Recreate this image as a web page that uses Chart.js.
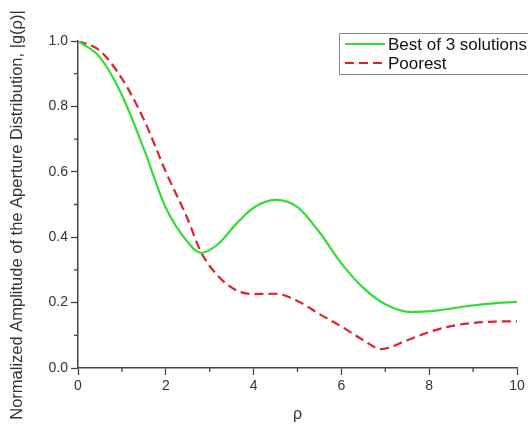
<!DOCTYPE html>
<html>
<head>
<meta charset="utf-8">
<style>
  html, body { margin: 0; padding: 0; background: #fff; }
  #wrap { width: 528px; height: 426px; }
</style>
<script src="https://cdn.jsdelivr.net/npm/chart.js@4.4.1/dist/chart.umd.min.js"></script>
</head>
<body>
<div id="wrap"><canvas id="chart" width="528" height="426"></canvas></div>
<script>
// values (extra samples at the turning points)
const rhoBest = [0, 0.5, 1, 1.5, 2, 2.5, 2.8, 3.2, 3.6, 4, 4.5, 5, 5.5, 6, 6.5, 7, 7.6, 8.2, 8.8, 9.4, 10];
const ampBest = [1.0, 0.95, 0.835, 0.67, 0.49, 0.385, 0.352, 0.38, 0.44, 0.49, 0.514, 0.492, 0.415, 0.32, 0.245, 0.195, 0.171, 0.176, 0.188, 0.197, 0.202];

const rhoPoor = [0, 0.5, 1, 1.5, 2, 2.5, 2.8, 3.2, 3.6, 4, 4.5, 5, 5.5, 6, 6.5, 6.9, 7.5, 8, 8.5, 9, 9.5, 10];
const ampPoor = [1.0, 0.97, 0.885, 0.76, 0.6, 0.455, 0.355, 0.28, 0.238, 0.226, 0.227, 0.205, 0.165, 0.127, 0.085, 0.058, 0.085, 0.11, 0.128, 0.138, 0.142, 0.143];

const seriesLabels = ['Best of 3 solutions', 'Poorest'];
const xTitle = 'ρ';
const yTitle = 'Normalized Amplitude of the Aperture Distribution, |g(ρ)|';
const xMinorTicks = [1, 3, 5, 7, 9];
const yMinorTicks = [0.1, 0.3, 0.5, 0.7, 0.9];

const FONT = '"Liberation Sans", Arial, sans-serif';
const AXIS = '#444';
const TEXT = '#333';
const GREEN = '#33dd33';
const RED = '#e0202a';

const toPoints = (xs, ys) => xs.map((x, i) => ({ x, y: ys[i] }));

/* minor ticks, shorter than the major ones */
const minorTicks = {
  id: 'minorTicks',
  afterDraw(chart) {
    const { ctx, scales: { x, y } } = chart;
    ctx.save();
    ctx.strokeStyle = AXIS;
    ctx.lineWidth = 1.3;
    ctx.beginPath();
    xMinorTicks.forEach(v => {
      const px = x.getPixelForValue(v);
      ctx.moveTo(px, y.bottom);
      ctx.lineTo(px, y.bottom + 4);
    });
    yMinorTicks.forEach(v => {
      const py = y.getPixelForValue(v);
      ctx.moveTo(x.left, py);
      ctx.lineTo(x.left - 4, py);
    });
    ctx.stroke();
    ctx.restore();
  }
};

/* the y title is longer than the plot, so it is placed by hand */
const yAxisTitle = {
  id: 'yAxisTitle',
  afterDraw(chart) {
    const { ctx } = chart;
    ctx.save();
    ctx.translate(17, 215);
    ctx.rotate(-Math.PI / 2);
    ctx.font = '16.5px ' + FONT;
    ctx.fillStyle = TEXT;
    ctx.textAlign = 'center';
    ctx.textBaseline = 'middle';
    ctx.fillText(yTitle, 0, 0);
    ctx.restore();
  }
};

/* boxed legend inside the plot, cut off at the right edge like the original */
const boxLegend = {
  id: 'boxLegend',
  afterDraw(chart) {
    const { ctx } = chart;
    const left = 339, top = 33;
    ctx.save();
    ctx.strokeStyle = '#888';
    ctx.lineWidth = 1;
    ctx.strokeRect(left + 0.5, top + 0.5, 220, 41);
    ctx.font = '17px ' + FONT;
    ctx.fillStyle = '#111';
    ctx.textBaseline = 'middle';
    chart.data.datasets.forEach((ds, i) => {
      const cy = top + 11 + i * 19;
      ctx.strokeStyle = ds.borderColor;
      ctx.lineWidth = 2;
      ctx.setLineDash(ds.borderDash || []);
      ctx.beginPath();
      ctx.moveTo(left + 6, cy);
      ctx.lineTo(left + 46, cy);
      ctx.stroke();
      ctx.setLineDash([]);
      ctx.fillText(ds.label, left + 49, cy + 1);
    });
    ctx.restore();
  }
};

new Chart(document.getElementById('chart'), {
  type: 'line',
  data: {
    datasets: [
      {
        label: seriesLabels[0],
        data: toPoints(rhoBest, ampBest),
        borderColor: GREEN,
        borderWidth: 2.2,
        pointRadius: 0,
        cubicInterpolationMode: 'monotone',
        fill: false,
      },
      {
        label: seriesLabels[1],
        data: toPoints(rhoPoor, ampPoor),
        borderColor: RED,
        borderWidth: 2.2,
        borderDash: [9, 5],
        pointRadius: 0,
        cubicInterpolationMode: 'monotone',
        fill: false,
      },
    ],
  },
  options: {
    responsive: false,
    animation: false,
    layout: { padding: { top: 41, right: 11, bottom: 0, left: 0 } },
    plugins: {
      legend: { display: false },
      tooltip: { enabled: false },
    },
    scales: {
      x: {
        type: 'linear',
        min: 0,
        max: 10,
        afterFit: s => { s.height = 58; },
        border: { display: true, color: AXIS, width: 1.5 },
        grid: { drawOnChartArea: false, drawTicks: true, tickLength: 7, tickColor: AXIS, tickWidth: 1.3 },
        ticks: { stepSize: 2, padding: 3, color: TEXT, font: { family: FONT, size: 14 } },
        title: {
          display: true,
          text: xTitle,
          color: TEXT,
          font: { family: FONT, size: 16 },
          padding: { top: 2, bottom: 2 },
        },
      },
      y: {
        min: 0,
        max: 1,
        afterFit: s => { s.width = 78; },
        border: { display: true, color: AXIS, width: 1.5 },
        grid: { drawOnChartArea: false, drawTicks: true, tickLength: 7, tickColor: AXIS, tickWidth: 1.3 },
        ticks: {
          stepSize: 0.2,
          padding: 3,
          color: TEXT,
          font: { family: FONT, size: 14 },
          callback: v => v.toFixed(1),
        },
      },
    },
  },
  plugins: [minorTicks, yAxisTitle, boxLegend],
});
</script>
</body>
</html>
